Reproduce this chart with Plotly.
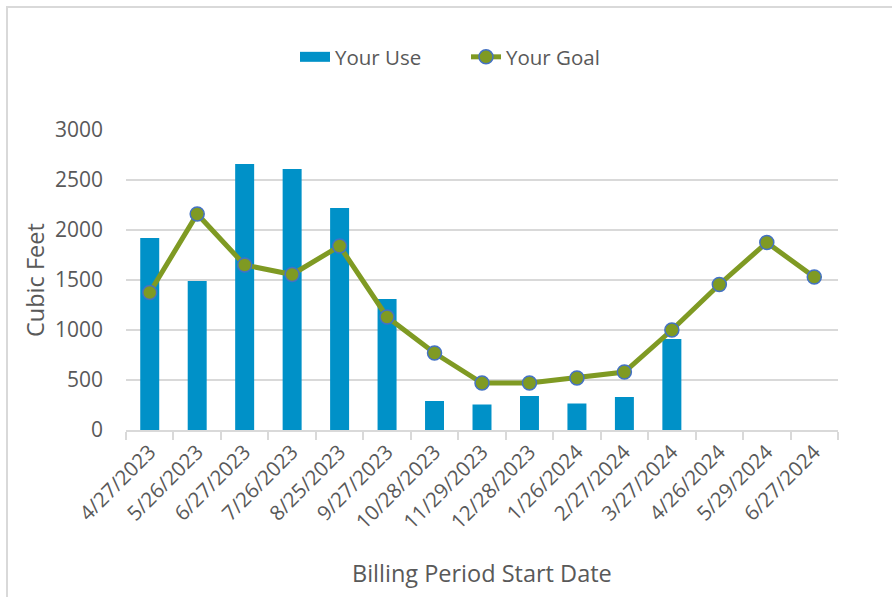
import plotly.graph_objects as go

# Billing periods and usage in cubic feet
periods = ["4/27/2023", "5/26/2023", "6/27/2023", "7/26/2023", "8/25/2023",
           "9/27/2023", "10/28/2023", "11/29/2023", "12/28/2023", "1/26/2024",
           "2/27/2024", "3/27/2024", "4/26/2024", "5/29/2024", "6/27/2024"]
your_use = [1920, 1490, 2660, 2610, 2220, 1310, 290, 255, 340, 265, 330, 910,
            None, None, None]
your_goal = [1375, 2160, 1650, 1555, 1840, 1130, 770, 470, 470, 520, 580, 1000,
             1455, 1875, 1530]
y_ticks = [0, 500, 1000, 1500, 2000, 2500, 3000]

TEXT = "#595959"
GRID = "#d9d9d9"
BLUE = "#0091c8"
OLIVE = "#7f9a23"
FONT = "Open Sans"

fig = go.Figure()
fig.add_trace(go.Bar(
    x=periods, y=your_use, name="Your Use", showlegend=False,
    marker=dict(color=BLUE, line=dict(width=0)),
    width=0.4,
))
# wide swatch for the usage legend entry
fig.add_trace(go.Scatter(
    x=[None], y=[None], name="Your Use", mode="lines",
    line=dict(color=BLUE, width=11),
))
fig.add_trace(go.Scatter(
    x=periods, y=your_goal, name="Your Goal", mode="lines+markers",
    line=dict(color=OLIVE, width=5),
    marker=dict(size=14, color=OLIVE, line=dict(color="#4472c4", width=1.5)),
))

L, R, T, B = 126, 54, 130, 167
W, H = 892, 597
pw, ph = W - L - R, H - T - B

def px_x(p):
    return (p - L) / pw

def px_y(p):
    return (H - B - p) / ph

fig.update_layout(
    width=W, height=H,
    margin=dict(l=L, r=R, t=T, b=B, autoexpand=False),
    paper_bgcolor="white", plot_bgcolor="white",
    font=dict(family=FONT, color=TEXT, size=20),
    showlegend=True,
    legend=dict(orientation="h", x=px_x(295), xanchor="left",
                y=px_y(57), yanchor="middle", tracegroupgap=0,
                entrywidth=126, entrywidthmode="pixels",
                font=dict(size=20.5, color=TEXT)),
    xaxis=dict(
        type="category", tickangle=-45, showgrid=False,
        showline=True, linecolor=GRID, linewidth=1.5,
        ticks="outside", tickson="boundaries", ticklen=8,
        tickcolor=GRID, tickwidth=1.5,
        tickfont=dict(size=20.5, color=TEXT),
        range=[-0.5, len(periods) - 0.5],
    ),
    yaxis=dict(
        range=[0, 3000], tickvals=y_ticks, showline=False,
        showgrid=True, gridcolor=GRID, gridwidth=1.5, zeroline=False,
        tickfont=dict(size=21, color=TEXT), ticklabelstandoff=22,
    ),
    annotations=[
        dict(text="Cubic Feet", xref="paper", yref="paper",
             x=px_x(35), y=0.5, textangle=-90, showarrow=False,
             xanchor="center", yanchor="middle",
             font=dict(size=23.5, color=TEXT)),
        dict(text="Billing Period Start Date", xref="paper", yref="paper",
             x=0.5, y=px_y(573), showarrow=False,
             xanchor="center", yanchor="middle",
             font=dict(size=23.5, color=TEXT)),
    ],
    shapes=[
        dict(type="rect", xref="paper", yref="paper",
             x0=px_x(7), x1=px_x(W + 20), y0=px_y(H + 20), y1=px_y(7),
             line=dict(color=GRID, width=2), fillcolor="rgba(0,0,0,0)",
             layer="below"),
    ],
)

fig.write_html("out.html")
